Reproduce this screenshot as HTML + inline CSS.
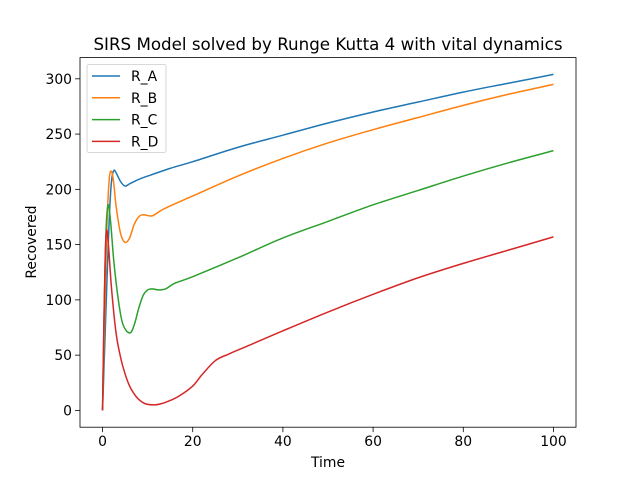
<!DOCTYPE html>
<html><head><meta charset="utf-8"><style>
body{margin:0;background:#fff}
svg text{font-family:"DejaVu Sans","Liberation Sans",sans-serif;fill:#000}
</style></head><body>
<svg width="640" height="480" xmlns="http://www.w3.org/2000/svg">
<rect width="640" height="480" fill="#fff"/>
<g id="plot"></g>
<text x="328" y="50" font-size="16.7" text-anchor="middle">SIRS Model solved by Runge Kutta 4 with vital dynamics</text>
<text x="328" y="467" font-size="13.9" text-anchor="middle">Time</text>
<text x="36" y="242" font-size="13.9" text-anchor="middle" transform="rotate(-90 36 242)">Recovered</text>
</svg>
<script>
const xTicks=[0,20,40,60,80,100];
const yTicks=[0,50,100,150,200,250,300];
const seriesNames=["R_A","R_B","R_C","R_D"];
const colors=["#1f77b4","#ff7f0e","#2ca02c","#d62728"];
const rA=[[0,0],[0.5,60],[1,120],[1.5,175],[2,208],[2.5,217],[3,215],[4,207],[5,203],[6,205],[8,209],[10,212],[15,219],[20,225],[30,238],[40,249],[50,260],[60,270],[70,279],[80,288],[90,296],[100,304]];
const rB=[[0,0],[0.5,90],[1,170],[1.5,210],[2,216],[2.5,205],[3,185],[4,160],[5,152],[6,156],[7,168],[8,175],[9,177],[11,176],[13,181],[15,185],[20,194],[30,212],[40,228],[50,242],[60,254],[70,265],[80,276],[90,286],[100,295]];
const rC=[[0,0],[0.4,100],[0.8,165],[1.25,186],[1.8,170],[2.5,135],[3.5,100],[4.5,78],[6,70],[7,77],[8,92],[9,104],[10,109],[11,110],[12.5,109],[14,110],[16,115],[20,121],[30,138],[40,156],[50,171],[60,186],[70,199],[80,212],[90,224],[100,235]];
const rD=[[0,0],[0.3,80],[0.6,140],[0.9,163],[1.3,150],[2,110],[3,70],[4,48],[5,33],[6,22],[7,15],[8,10],[9.5,6],[11.5,5],[13,6],[15,9],[17,13],[20,22],[22,32],[25,45],[28,51],[32,58],[40,72],[50,89],[60,105],[70,120],[80,133],[90,145],[100,157]];
const series=[rA,rB,rC,rD];
const L=80,R=576,T=57.6,B=427.2,xmin=-5,xmax=105,ymin=-15.2,ymax=319.2;
const X=v=>L+(v-xmin)/(xmax-xmin)*(R-L);
const Y=v=>B-(v-ymin)/(ymax-ymin)*(B-T);
const NS="http://www.w3.org/2000/svg";
const g=document.getElementById('plot');
function mk(t,a,p){const e=document.createElementNS(NS,t);for(const k in a)e.setAttribute(k,a[k]);(p||g).appendChild(e);return e;}
series.forEach((s,i)=>{
 let d="";
 for(let j=0;j<s.length;j++){
  const p1=s[j],p2=s[Math.min(j+1,s.length-1)];
  if(j===0){d+="M"+X(p1[0]).toFixed(2)+","+Y(p1[1]).toFixed(2);continue;}
  const pm=s[Math.max(j-2,0)];
  const a=s[j-1],b=s[j];
  const c1x=X(a[0])+(X(b[0])-X(pm[0]))/6,c1y=Y(a[1])+(Y(b[1])-Y(pm[1]))/6;
  const c2x=X(b[0])-(X(p2[0])-X(a[0]))/6,c2y=Y(b[1])-(Y(p2[1])-Y(a[1]))/6;
  d+="C"+c1x.toFixed(2)+","+c1y.toFixed(2)+" "+c2x.toFixed(2)+","+c2y.toFixed(2)+" "+X(b[0]).toFixed(2)+","+Y(b[1]).toFixed(2);
 }
 const p=mk('path',{d:d,fill:'none',stroke:colors[i],'stroke-width':1.5});
 
 
});
const fr=mk('rect',{x:L,y:T,width:R-L,height:B-T,fill:'none',stroke:'#000','stroke-width':0.8});


xTicks.forEach(v=>{
 mk('line',{x1:X(v),x2:X(v),y1:B,y2:B+4.9,stroke:'#000','stroke-width':0.8});
 const t=mk('text',{x:X(v),y:B+19,'font-size':13.9,'text-anchor':'middle'});t.textContent=v;
 
 
});
yTicks.forEach(v=>{
 mk('line',{x1:L-4.9,x2:L,y1:Y(v),y2:Y(v),stroke:'#000','stroke-width':0.8});
 const t=mk('text',{x:L-8,y:Y(v)+5,'font-size':13.9,'text-anchor':'end'});t.textContent=v;
 
 
});
const lg=mk('g',{});


mk('rect',{x:87,y:64.5,width:79,height:88,rx:2,fill:'#fff','fill-opacity':0.8,stroke:'#ccc','stroke-width':0.8},lg);
seriesNames.forEach((n,i)=>{
 const y=76+i*21.8;
 mk('line',{x1:92,x2:120,y1:y,y2:y,stroke:colors[i],'stroke-width':1.5},lg);
 const t=mk('text',{x:131,y:y+5,'font-size':13.9},lg);t.textContent=n;
 
 
});
</script>
</body></html>
